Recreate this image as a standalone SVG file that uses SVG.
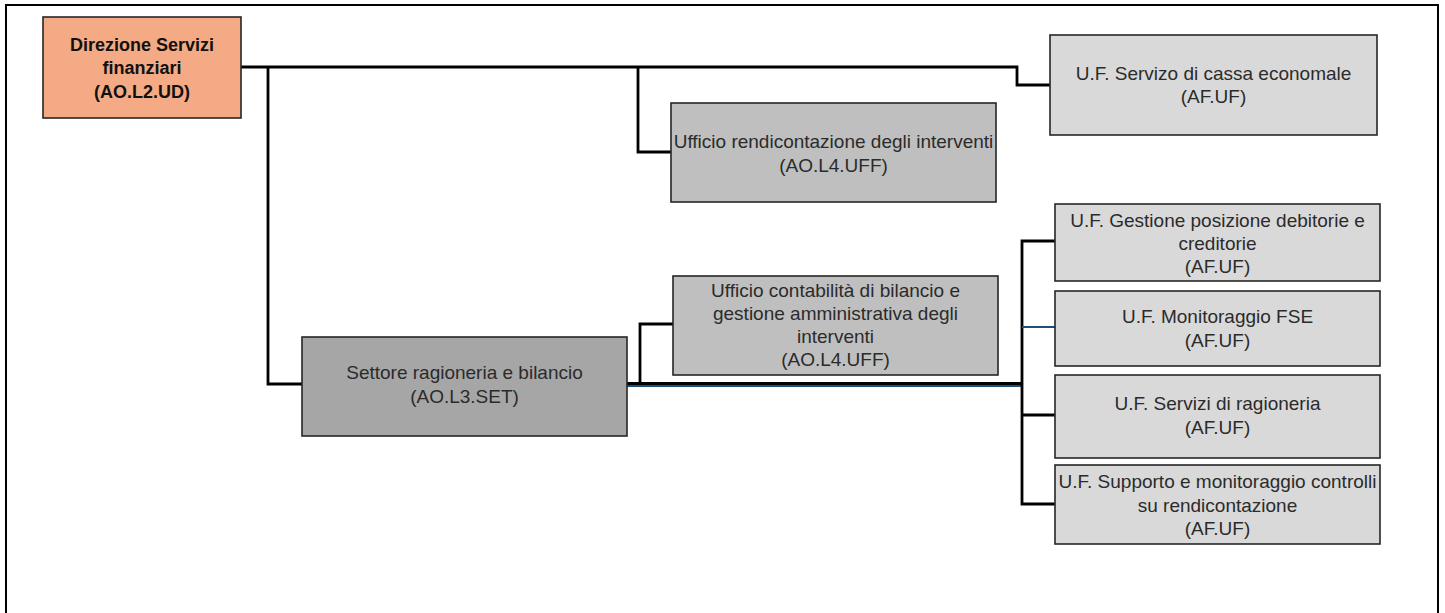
<svg xmlns="http://www.w3.org/2000/svg" width="1445" height="613" viewBox="0 0 1445 613">
<style>
.box{stroke:#262626;stroke-width:1.6}
.t{font-family:"Liberation Sans",Arial,sans-serif;font-size:19px;fill:#2b2b2b;text-anchor:middle}
.b{font-weight:bold;font-size:18px;fill:#111}
.c{fill:none;stroke:#000;stroke-width:2.8}
.blue{fill:none;stroke:#1F4E79;stroke-width:2}
</style>
<rect x="0" y="0" width="1445" height="613" fill="#fff"/>
<rect x="6" y="5" width="1432" height="640" fill="none" stroke="#000" stroke-width="2"/>
<g id="connectors">
<polyline class="c" points="241,67 1017,67 1017,85 1050,85"/>
<polyline class="c" points="268,67 268,384 302,384"/>
<polyline class="c" points="638,67 638,152 671,152"/>
<line class="blue" x1="627" y1="386" x2="1022" y2="386" stroke-width="1.5"/>
<polyline class="c" points="627,383.5 1022,383.5"/>
<polyline class="c" points="640,383.5 640,324 673,324"/>
<polyline class="c" points="1055,241 1022,241 1022,504 1055,504"/>
<line class="c" x1="1022" y1="415" x2="1055" y2="415"/>
<line class="blue" x1="1022" y1="327" x2="1055" y2="327"/>
</g>
<g id="direzione">
<rect class="box" x="43" y="17" width="198" height="101" fill="#F4AA85"/>
<text class="t b"><tspan x="142" y="50.5">Direzione Servizi</tspan><tspan x="142" y="74">finanziari</tspan><tspan x="142" y="97.5">(AO.L2.UD)</tspan></text>
</g>
<g id="cassa">
<rect class="box" x="1050" y="35" width="327" height="100" fill="#D9D9D9"/>
<text class="t"><tspan x="1213.5" y="80">U.F. Servizo di cassa economale</tspan><tspan x="1213.5" y="103">(AF.UF)</tspan></text>
</g>
<g id="rendicontazione">
<rect class="box" x="671" y="103" width="325" height="99" fill="#BFBFBF"/>
<text class="t"><tspan x="833.5" y="148">Ufficio rendicontazione degli interventi</tspan><tspan x="833.5" y="172">(AO.L4.UFF)</tspan></text>
</g>
<g id="settore">
<rect class="box" x="302" y="337" width="325" height="99" fill="#A6A6A6"/>
<text class="t"><tspan x="464.5" y="379">Settore ragioneria e bilancio</tspan><tspan x="464.5" y="403">(AO.L3.SET)</tspan></text>
</g>
<g id="contabilita">
<rect class="box" x="673" y="276" width="325" height="99" fill="#BFBFBF"/>
<text class="t"><tspan x="835.5" y="296.5">Ufficio contabilità di bilancio e</tspan><tspan x="835.5" y="319.5">gestione amministrativa degli</tspan><tspan x="835.5" y="342.5">interventi</tspan><tspan x="835.5" y="365.5">(AO.L4.UFF)</tspan></text>
</g>
<g id="gestione">
<rect class="box" x="1055" y="204" width="325" height="77" fill="#D9D9D9"/>
<text class="t"><tspan x="1217.5" y="226.5">U.F. Gestione posizione debitorie e</tspan><tspan x="1217.5" y="249.5">creditorie</tspan><tspan x="1217.5" y="273">(AF.UF)</tspan></text>
</g>
<g id="fse">
<rect class="box" x="1055" y="291" width="325" height="75" fill="#D9D9D9"/>
<text class="t"><tspan x="1217.5" y="322.5">U.F. Monitoraggio FSE</tspan><tspan x="1217.5" y="346.5">(AF.UF)</tspan></text>
</g>
<g id="ragioneria">
<rect class="box" x="1055" y="375" width="325" height="83" fill="#D9D9D9"/>
<text class="t"><tspan x="1217.5" y="409.5">U.F. Servizi di ragioneria</tspan><tspan x="1217.5" y="434">(AF.UF)</tspan></text>
</g>
<g id="supporto">
<rect class="box" x="1055" y="465" width="325" height="79" fill="#D9D9D9"/>
<text class="t"><tspan x="1217.5" y="488">U.F. Supporto e monitoraggio controlli</tspan><tspan x="1217.5" y="511.5">su rendicontazione</tspan><tspan x="1217.5" y="535">(AF.UF)</tspan></text>
</g>
</svg>
